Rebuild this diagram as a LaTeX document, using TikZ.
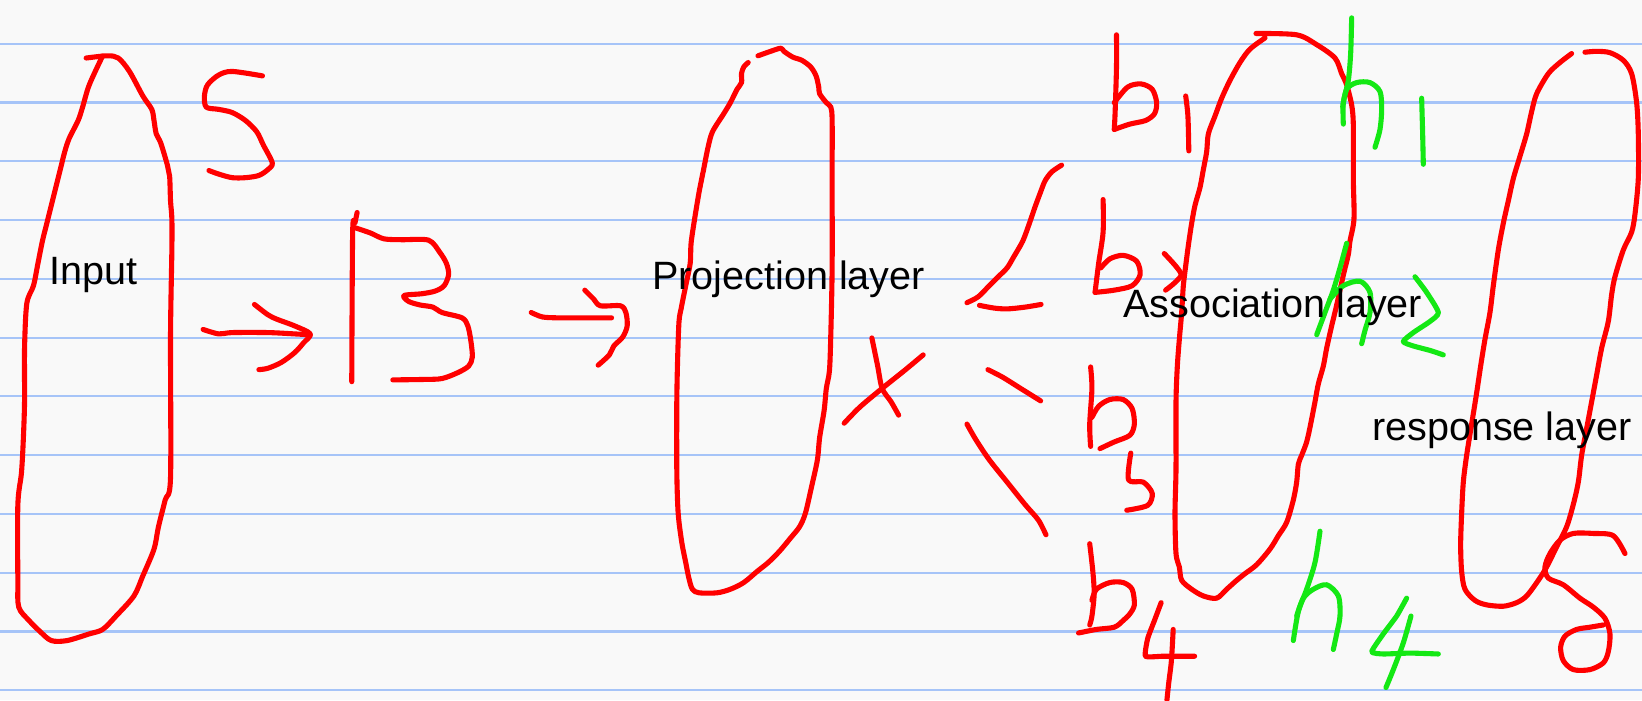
\documentclass[tikz,border=0pt]{standalone}
\usepackage{fontspec}
\setmainfont{Liberation Sans}
\definecolor{inkred}{RGB}{255,0,0}
\definecolor{inkgreen}{RGB}{20,232,20}
\definecolor{rulecol}{RGB}{166,196,248}
\definecolor{paper}{RGB}{249,249,249}
\tikzset{
  redink/.style={draw=inkred, line width=2.9pt, line cap=round, line join=round},
  greenink/.style={draw=inkgreen, line width=2.9pt, line cap=round, line join=round},
  ruleline/.style={draw=rulecol, line width=1.2pt},
  layerlabel/.style={font=\fontsize{22.5}{26}\selectfont, inner sep=0pt, anchor=base west}
}

\begin{document}
\begin{tikzpicture}[x=0.02cm, y=-0.02cm]
  \useasboundingbox (0,0) rectangle (1642,700);
  \fill[paper] (0,0) rectangle (1642,700);
  % ruled paper
  \foreach \k in {0,...,11}
    \draw[ruleline] (0,{43.75+58.77*\k}) -- (1642,{43.75+58.77*\k});

  % left part: input, S, arrow, B, arrow
  \begin{scope}[scale=0.4464]
    \draw[redink] plot[smooth, tension=0.5] coordinates {(193,130) (240,125) (265,130) (290,160) (320,215) (340,245) (345,270) (350,300) (360,320) (375,370) (380,395) (382,450) (385,490) (385,560) (382,750) (382,1070) (370,1120) (355,1180) (345,1230) (320,1290) (300,1335) (260,1380) (230,1410) (200,1420) (150,1435) (115,1435) (90,1415) (65,1390) (42,1360) (40,1300) (40,1130) (48,1060) (52,990) (55,900) (55,780) (60,680) (75,640) (85,590) (95,540) (105,500) (115,460) (125,420) (135,380) (145,340) (155,310) (175,270) (185,240) (200,190) (230,125)};
    \draw[redink] plot[smooth, tension=0.5] coordinates {(588,170) (520,160) (490,168) (465,190) (458,215) (462,240) (490,245) (520,252) (550,270) (575,295) (590,325) (610,365) (600,380) (580,393) (550,398) (520,398) (490,390) (468,382)};
    \draw[redink] plot[smooth, tension=0.5] coordinates {(455,738) (490,748) (520,745) (600,745) (660,748) (695,750)};
    \draw[redink] plot[smooth, tension=0.5] coordinates {(570,682) (600,705) (620,715) (660,730) (695,748) (680,768) (660,790) (630,812) (600,825) (580,828)};
    \draw[redink] plot[smooth, tension=0.5] coordinates {(800,476) (795,500) (790,520) (788,855)};
    \draw[redink] plot[smooth, tension=0.5] coordinates {(795,510) (830,522) (860,535) (900,537) (960,538) (985,565) (1000,590) (1005,615) (995,640) (975,652) (945,658) (905,662) (915,675) (940,683) (970,688) (990,700) (1035,712) (1048,730) (1055,765) (1058,800) (1050,820) (1025,835) (990,848) (950,850) (880,851)};
    \draw[redink] plot[smooth, tension=0.5] coordinates {(1190,700) (1215,710) (1250,712) (1300,712) (1370,712)};
    \draw[redink] plot[smooth, tension=0.5] coordinates {(1310,650) (1330,670) (1345,685) (1390,685) (1402,700) (1405,730) (1395,755) (1375,775) (1365,795) (1340,818)};
  \end{scope}

  % middle part: projection layer, x, brackets, b1..b4
  \begin{scope}[shift={(650,0)}, scale=0.4464]
    \draw[redink] plot[smooth, tension=0.5] coordinates {(242,125) (270,115) (293,108) (300,115) (320,128) (340,135) (360,150) (372,170) (378,195) (380,210) (395,230) (405,240) (408,270) (408,400) (408,600) (405,750) (402,830) (395,870) (390,920) (380,980) (375,1030) (362,1090) (348,1150) (335,1180) (315,1205) (290,1235) (265,1260) (240,1280) (210,1305) (180,1320) (150,1328) (110,1328) (95,1320) (87,1295) (80,1260) (72,1220) (65,1170) (62,1130) (60,1050) (60,900) (62,800) (65,720) (70,690) (80,640) (90,590) (92,545) (100,490) (110,430) (120,380) (130,330) (140,295) (165,255) (180,230) (195,200) (205,185) (205,165) (210,150) (220,140)};
    \draw[redink] plot[smooth, tension=0.5] coordinates {(497,757) (510,820) (520,870) (540,900) (557,930)};
    \draw[redink] plot[smooth, tension=0.5] coordinates {(612,795) (570,830) (520,870) (470,912) (435,948)};
    \draw[redink] plot[smooth, tension=0.5] coordinates {(922,370) (900,385) (885,405) (875,430) (862,465) (850,500) (835,540) (815,575) (800,600) (780,620) (760,640) (735,665) (710,678)};
    \draw[redink] plot[smooth, tension=0.5] coordinates {(738,684) (770,690) (800,692) (840,688) (876,682)};
    \draw[redink] plot[smooth, tension=0.5] coordinates {(757,828) (790,845) (830,870) (875,898)};
    \draw[redink] plot[smooth, tension=0.5] coordinates {(710,950) (730,985) (760,1030) (800,1080) (840,1130) (870,1165) (887,1198)};
    % b1
    \draw[redink] plot[smooth, tension=0.5] coordinates {(1045,78) (1045,150) (1042,250) (1040,290)};
    \draw[redink] plot[smooth, tension=0.5] coordinates {(1040,230) (1070,195) (1100,188) (1125,200) (1135,230) (1130,255) (1110,270) (1075,278) (1040,290)};
    \draw[redink] plot[smooth, tension=0.5] coordinates {(1200,215) (1205,260) (1207,338)};
    % b2
    \draw[redink] plot[smooth, tension=0.5] coordinates {(1015,447) (1015,520) (1005,590) (997,655)};
    \draw[redink] plot[smooth, tension=0.5] coordinates {(1010,600) (1030,580) (1060,572) (1090,585) (1098,615) (1080,640) (1040,650) (997,655)};
    \draw[redink] plot[smooth, tension=0.4] coordinates {(1152,568) (1190,615) (1155,650)};
    % b3
    \draw[redink] plot[smooth, tension=0.5] coordinates {(987,822) (990,870) (985,950) (987,1000)};
    \draw[redink] plot[smooth, tension=0.5] coordinates {(990,935) (1005,910) (1030,895) (1060,895) (1080,915) (1085,950) (1075,975) (1040,990) (1008,1005)};
    \draw[redink] plot[smooth, tension=0.5] coordinates {(1077,1015) (1072,1075) (1105,1080) (1125,1105) (1115,1132) (1068,1143)};
    % b4
    \draw[redink] plot[smooth, tension=0.5] coordinates {(985,1218) (992,1280) (995,1330) (990,1380) (985,1400)};
    \draw[redink] plot[smooth, tension=0.5] coordinates {(990,1345) (1000,1320) (1030,1305) (1060,1305) (1080,1320) (1085,1355) (1075,1375) (1060,1390) (1040,1405) (1000,1410) (960,1418)};
    \draw[redink] plot[smooth, tension=0.3] coordinates {(1145,1350) (1130,1390) (1115,1430) (1110,1470) (1150,1470) (1220,1470)};
    \draw[redink] plot[smooth, tension=0.5] coordinates {(1172,1410) (1168,1480) (1162,1530) (1158,1568)};
  \end{scope}

  % right part: association and response layers, h1 h2 h4
  \begin{scope}[shift={(1150,0)}, xscale=0.3333, yscale=0.4464]
    \draw[redink] plot[smooth, tension=0.5] coordinates {(318,75) (440,78) (500,100) (555,130) (575,165) (590,190) (605,235) (610,280) (610,400) (612,490) (600,540) (595,570) (582,610) (570,650) (558,690) (545,730) (530,780) (520,820) (505,860) (495,900) (482,950) (470,990) (455,1020) (445,1040) (440,1080) (430,1120) (410,1170) (385,1200) (360,1230) (320,1265) (285,1285) (260,1300) (230,1320) (200,1340) (160,1335) (125,1320) (95,1300) (88,1270) (78,1240) (75,1150) (78,1050) (78,900) (82,820) (88,760) (95,700) (100,640) (108,590) (115,550) (125,500) (135,460) (150,420) (160,380) (170,340) (175,300) (195,260) (215,220) (240,180) (270,140) (300,110) (345,85)};
    \draw[redink] plot[smooth, tension=0.5] coordinates {(1265,120) (1230,140) (1195,165) (1160,210) (1145,250) (1130,300) (1110,350) (1090,400) (1075,450) (1060,500) (1045,560) (1030,640) (1020,700) (1005,760) (992,820) (980,880) (965,950) (950,1020) (940,1080) (935,1150) (932,1220) (935,1280) (945,1320) (975,1345) (1010,1355) (1060,1358) (1100,1350) (1130,1335) (1165,1300) (1190,1270) (1220,1225) (1250,1180) (1270,1130) (1285,1080) (1295,1020) (1310,960) (1325,900) (1340,840) (1355,780) (1375,720) (1385,660) (1395,620) (1420,560) (1445,520) (1455,480) (1465,400) (1465,300) (1460,230) (1445,165) (1420,135) (1380,118) (1340,115) (1305,117)};
    \draw[redink] plot[smooth, tension=0.5] coordinates {(1425,1240) (1390,1200) (1330,1195) (1270,1195) (1230,1210) (1200,1240) (1185,1270) (1195,1295) (1240,1310) (1290,1340) (1330,1360) (1365,1385) (1380,1420) (1375,1460) (1360,1485) (1320,1500) (1270,1500) (1240,1480) (1232,1450) (1245,1425) (1280,1410) (1320,1405) (1360,1400)};
    % h1
    \draw[greenink] plot[smooth, tension=0.5] coordinates {(605,40) (602,120) (595,180) (580,230) (580,278)};
    \draw[greenink] plot[smooth, tension=0.5] coordinates {(578,240) (590,200) (620,185) (660,185) (690,205) (695,245) (690,290) (675,330)};
    \draw[greenink] plot[smooth, tension=0.5] coordinates {(815,220) (818,300) (820,368)};
    % h2
    \draw[greenink] plot[smooth, tension=0.5] coordinates {(590,545) (570,600) (550,650) (530,690) (515,720) (500,750)};
    \draw[greenink] plot[smooth, tension=0.5] coordinates {(540,670) (580,640) (630,630) (660,655) (660,700) (645,740) (635,770)};
    \draw[greenink] plot[smooth, tension=0.4] coordinates {(795,620) (830,655) (865,700) (840,720) (790,745) (760,765) (790,775) (840,785) (880,795)};
    % h4
    \draw[greenink] plot[smooth, tension=0.5] coordinates {(510,1190) (495,1260) (470,1320) (445,1370) (430,1435)};
    \draw[greenink] plot[smooth, tension=0.5] coordinates {(440,1380) (460,1340) (490,1320) (530,1310) (565,1335) (570,1380) (560,1420) (550,1455)};
    \draw[greenink] plot[smooth, tension=0.3] coordinates {(770,1340) (740,1380) (700,1420) (665,1460) (700,1465) (780,1463) (865,1465)};
    \draw[greenink] plot[smooth, tension=0.5] coordinates {(783,1380) (760,1440) (730,1500) (708,1540)};
  \end{scope}

  % labels
  \node[layerlabel] (input) at (49,284) {Input};
  \node[layerlabel] (proj) at (652,289) {Projection layer};
  \node[layerlabel] (assoc) at (1123,317) {Association layer};
  \node[layerlabel] (resp) at (1372,440) {response layer};
\end{tikzpicture}
\end{document}
